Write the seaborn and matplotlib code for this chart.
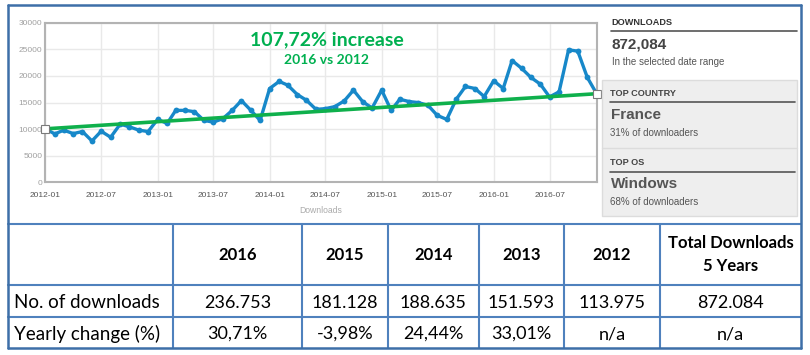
import numpy as np
import pandas as pd
import seaborn as sns
import matplotlib.pyplot as plt
import matplotlib.dates as mdates
from matplotlib.lines import Line2D
from matplotlib.patches import Rectangle

# --- data ---
months = pd.date_range('2012-01-01', '2016-12-01', freq='MS')
downloads = [
    10050, 9100, 9800, 9160, 9540, 7770, 9600, 8470, 10930, 10430, 9800, 9540,        # 2012
    11820, 11060, 13520, 13520, 13270, 11630, 11310, 11940, 13520, 15360, 13520, 11630,  # 2013
    17630, 18960, 18260, 16500, 15420, 13710, 13840, 14220, 15290, 17320, 15100, 13970,  # 2014
    17320, 13520, 15610, 15170, 14980, 14470, 12580, 11820, 15610, 18010, 17630, 16120,  # 2015
    19090, 17630, 22880, 21430, 19720, 18450, 16050, 17000, 24900, 24650, 19720, 16690,  # 2016
]
trend_values = [10050, 16650]

title_main = '107,72% increase'
title_sub = '2016 vs 2012'

table_years = ['2016', '2015', '2014', '2013', '2012']
yearly_downloads = ['236.753', '181.128', '188.635', '151.593', '113.975']
yearly_change = ['30,71%', '-3,98%', '24,44%', '33,01%', 'n/a']
total_downloads = '872.084'
total_change = 'n/a'

panel_total = '872,084'
top_country = 'France'
top_country_share = '31% of downloaders'
top_os = 'Windows'
top_os_share = '68% of downloaders'

# --- figure setup ---
W, H = 810, 355
sns.set_theme(style='white')
plt.rcParams['font.family'] = ['Liberation Sans', 'DejaVu Sans']

fig = plt.figure(figsize=(W / 100, H / 100), dpi=100)
fig.patch.set_facecolor('white')


def fx(x):
    return x / W


def fy(y):
    return 1 - y / H


def hline(y, x0, x1, color, lw):
    fig.add_artist(Line2D([fx(x0), fx(x1)], [fy(y), fy(y)], color=color, lw=lw))


def vline(x, y0, y1, color, lw):
    fig.add_artist(Line2D([fx(x), fx(x)], [fy(y0), fy(y1)], color=color, lw=lw))


# --- line chart ---
ax_l, ax_r, ax_t, ax_b = 45.3, 596.5, 22.7, 182.3
ax = fig.add_axes([fx(ax_l), fy(ax_b), (ax_r - ax_l) / W, (ax_b - ax_t) / H])

df = pd.DataFrame({'month': months, 'downloads': downloads})
sns.lineplot(data=df, x='month', y='downloads', ax=ax, color='#1788c9', lw=2.4,
             marker='o', markersize=4.2, markeredgewidth=0, zorder=3)

trend = pd.DataFrame({'month': [months[0], months[-1]], 'value': trend_values})
sns.lineplot(data=trend, x='month', y='value', ax=ax, color='#0fb04c', lw=2.6,
             marker='s', markersize=6, markerfacecolor='white',
             markeredgecolor='#7a7a7a', markeredgewidth=0.8, zorder=4, clip_on=False)

ax.set_xlim(months[0], months[-1])
ax.set_ylim(0, 30000)
ax.set_yticks(np.arange(0, 30001, 5000))
ax.xaxis.set_major_locator(mdates.MonthLocator(bymonth=[1, 7]))
ax.xaxis.set_major_formatter(mdates.DateFormatter('%Y-%m'))
ax.grid(True, color='#e9e9e9', lw=1)
for s in ax.spines.values():
    s.set_color('#b3b3b3')
    s.set_linewidth(1.5)
ax.tick_params(axis='y', length=0, labelsize=6, labelcolor='#a0a0a0', pad=2)
ax.tick_params(axis='x', length=0, labelsize=6, labelcolor='#555555', pad=7)
ax.set_xlabel('Downloads', fontsize=6.2, color='#aaaaaa', labelpad=5)
ax.set_ylabel('')

fig.text(fx(327), fy(40), title_main, ha='center', va='center', color='#00b050',
         fontsize=14, fontweight='bold', family=['Lato', 'DejaVu Sans'])
fig.text(fx(327), fy(60), title_sub, ha='center', va='center', color='#00b050',
         fontsize=10, fontweight='bold', family=['Lato', 'DejaVu Sans'])

# --- right side panel ---
fig.add_artist(Rectangle((fx(601.7), fy(216)), (796.7 - 601.7) / W, (216 - 80) / H,
                         transform=fig.transFigure, fc='#eeeeee', ec='#dcdcdc', lw=1))
hline(148.3, 601.7, 796.7, '#dcdcdc', 1)
hline(31, 611, 797, '#555555', 1.2)
hline(102.3, 610, 795, '#555555', 1.2)
hline(171.7, 610, 795, '#555555', 1.2)

fig.text(fx(611.5), fy(22.7), 'DOWNLOADS', ha='left', va='center', fontsize=6.6,
         fontweight='bold', color='#333333')
fig.text(fx(611.5), fy(44.3), panel_total, ha='left', va='center', fontsize=11,
         fontweight='bold', color='#444444')
fig.text(fx(611.5), fy(61.7), 'In the selected date range', ha='left', va='center',
         fontsize=7, color='#555555')
fig.text(fx(610.5), fy(93.3), 'TOP COUNTRY', ha='left', va='center', fontsize=6.6,
         fontweight='bold', color='#444444')
fig.text(fx(610.5), fy(115), top_country, ha='left', va='center', fontsize=11,
         fontweight='bold', color='#555555')
fig.text(fx(610.5), fy(132.7), top_country_share, ha='left', va='center', fontsize=7,
         color='#555555')
fig.text(fx(610.5), fy(162.7), 'TOP OS', ha='left', va='center', fontsize=6.6,
         fontweight='bold', color='#444444')
fig.text(fx(610.5), fy(184), top_os, ha='left', va='center', fontsize=11,
         fontweight='bold', color='#555555')
fig.text(fx(610.5), fy(201.7), top_os_share, ha='left', va='center', fontsize=7,
         color='#555555')

# --- table below ---
grid_col = '#4f81bd'
frame_col = '#3d6fa8'
col_edges = [8, 172.7, 302.3, 387.7, 479, 564, 660, 801]
row_edges = [224, 285, 317.3, 348.3]

for y in row_edges[:-1]:
    hline(y, col_edges[0], col_edges[-1], grid_col, 1.5)
for x in col_edges[1:-1]:
    vline(x, row_edges[0], row_edges[-1], grid_col, 1.5)

# outer frame
hline(5, 8, 801, frame_col, 1.8)
hline(348.3, 8, 801, frame_col, 1.8)
vline(8, 5, 348.3, frame_col, 1.8)
vline(801, 5, 348.3, frame_col, 1.8)

tfont = ['Lato', 'DejaVu Sans']
centers = [(col_edges[i] + col_edges[i + 1]) / 2 for i in range(1, len(col_edges) - 1)]
header_y = 255
row1_y = 302.5
row2_y = 334

for i, yr in enumerate(table_years):
    fig.text(fx(centers[i]), fy(header_y), yr, ha='center', va='center', fontsize=12,
             fontweight='bold', color='black', family=tfont)
    fig.text(fx(centers[i]), fy(row1_y), yearly_downloads[i], ha='center', va='center',
             fontsize=13, color='black', family=tfont)
    fig.text(fx(centers[i]), fy(row2_y), yearly_change[i], ha='center', va='center',
             fontsize=13, color='black', family=tfont)

fig.text(fx(centers[-1]), fy(243.3), 'Total Downloads', ha='center', va='center',
         fontsize=12, fontweight='bold', color='black', family=tfont)
fig.text(fx(centers[-1]), fy(266), '5 Years', ha='center', va='center',
         fontsize=12, fontweight='bold', color='black', family=tfont)
fig.text(fx(centers[-1]), fy(row1_y), total_downloads, ha='center', va='center',
         fontsize=13, color='black', family=tfont)
fig.text(fx(centers[-1]), fy(row2_y), total_change, ha='center', va='center',
         fontsize=13, color='black', family=tfont)

fig.text(fx(14), fy(row1_y), 'No. of downloads', ha='left', va='center',
         fontsize=13.5, color='black', family=tfont)
fig.text(fx(14), fy(row2_y), 'Yearly change (%)', ha='left', va='center',
         fontsize=13.5, color='black', family=tfont)

fig.savefig('out.png', dpi=100, facecolor='white')
